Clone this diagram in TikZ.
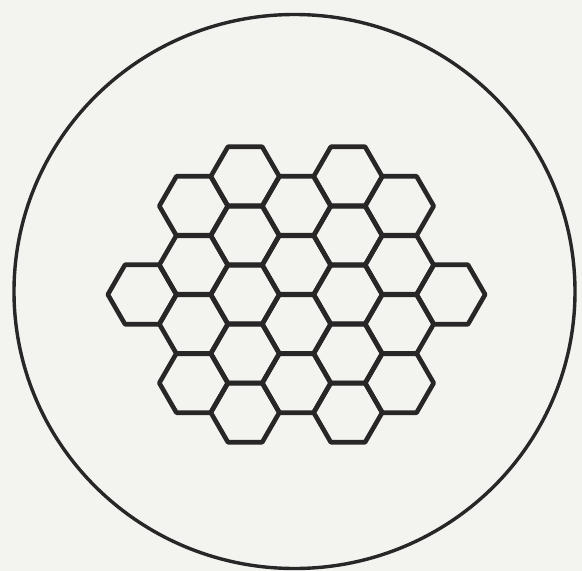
\documentclass[tikz,border=0pt]{standalone}
\definecolor{paper}{RGB}{243,243,240}
\definecolor{ink}{RGB}{40,38,38}
\tikzset{
  hexcell/.style={draw=ink, line width=4.6pt, line join=round},
  rim/.style={draw=ink, line width=3.4pt}
}
\begin{document}
\begin{tikzpicture}[x=1pt,y=-1pt]
  \fill[paper] (0,0) rectangle (582,571);
  \useasboundingbox (0,0) rectangle (582,571);
  \draw[rim] (294.5,291.5) ellipse [x radius=280.5, y radius=277];
  \def\s{34.3}
  \def\h{59.0}
  \foreach \c/\ys in {-3/{0},
                      -2/{-1.5,-0.5,0.5,1.5},
                      -1/{-2,-1,0,1,2},
                       0/{-1.5,-0.5,0.5,1.5},
                       1/{-2,-1,0,1,2},
                       2/{-1.5,-0.5,0.5,1.5},
                       3/{0}}{
    \foreach \r in \ys {
      \pgfmathsetmacro{\cx}{296.5+51.45*\c}
      \pgfmathsetmacro{\cy}{294.5+\h*\r}
      \draw[hexcell] (\cx,\cy) ++(0:\s) -- ++(120:\s) -- ++(180:\s)
        -- ++(240:\s) -- ++(300:\s) -- ++(0:\s) -- cycle;
    }
  }
\end{tikzpicture}
\end{document}
